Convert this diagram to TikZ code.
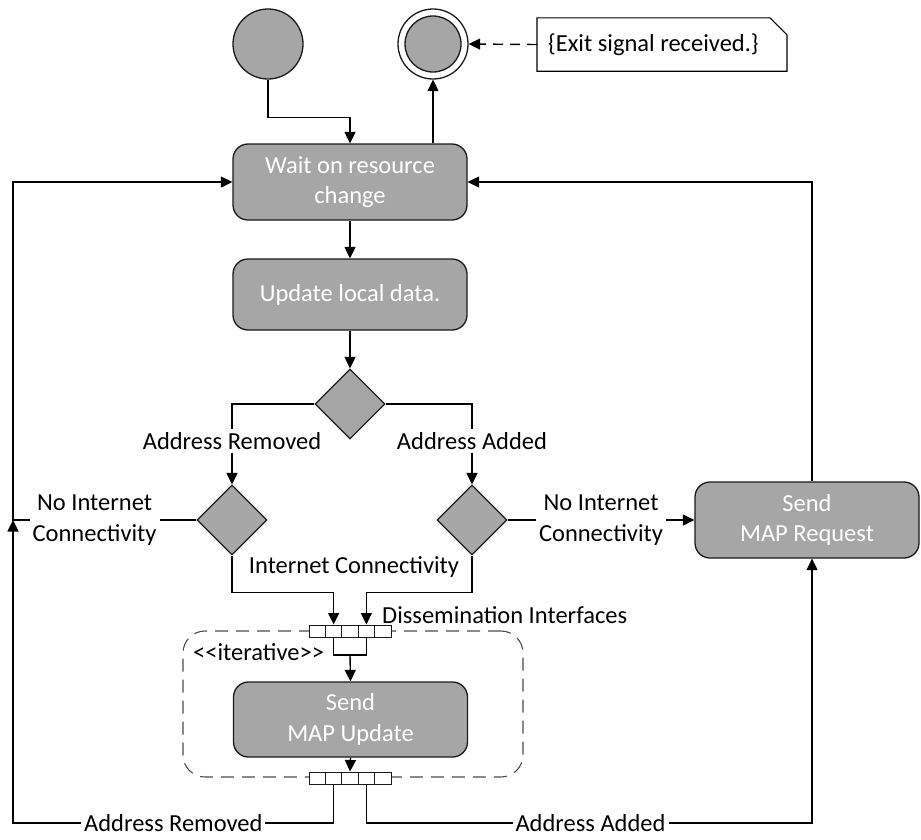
\documentclass[tikz,border=0pt]{standalone}
\usepackage{fontspec}
\setmainfont{Carlito}
\usetikzlibrary{arrows.meta,shapes.geometric,calc}
\definecolor{actfill}{HTML}{A6A6A6}
\definecolor{edge}{HTML}{1A1A1A}

\begin{document}
\begin{tikzpicture}[x=1pt,y=-1pt,
  every node/.style={font=\fontsize{24.5}{30.5}\selectfont},
  action/.style={draw=edge, line width=1.3pt, fill=actfill, rounded corners=15pt,
    minimum width=234pt, minimum height=76pt, inner sep=0pt, align=center, text=white},
  decision/.style={diamond, draw=edge, line width=1.3pt, fill=actfill,
    minimum width=70pt, minimum height=70pt, inner sep=0pt, shape aspect=1},
  initnode/.style={circle, draw=edge, line width=1.3pt, fill=actfill,
    minimum size=70pt, inner sep=0pt},
  pincell/.style={draw=edge, line width=1pt, fill=white,
    minimum width=16.4pt, minimum height=12pt, inner sep=0pt},
  flow/.style={draw=black, line width=1.4pt, -{Triangle[length=11.5pt,width=11pt]}},
  plain/.style={draw=black, line width=1.4pt},
  lbl/.style={fill=white, inner sep=3pt, align=center},
]
\useasboundingbox (0,0) rectangle (921,839);

% expansion region (iterative)
\node[draw=gray!60!black, line width=1.1pt, dash pattern=on 13pt off 8pt,
  rounded corners=22pt, minimum width=340pt, minimum height=146pt] (region) at (353,704) {};

% initial and final nodes
\node[initnode] (start) at (268,44) {};
\node[circle, draw=edge, line width=1.3pt, fill=white, minimum size=70pt, inner sep=0pt] (final) at (433,44) {};
\node[circle, draw=edge, line width=1.3pt, fill=actfill, minimum size=56pt, inner sep=0pt] (finalcore) at (final) {};

% note with folded corner
\node[anchor=west, inner xsep=11pt, inner ysep=0pt, minimum height=53pt] (note) at (537,44.5) {\{Exit signal received.\}};
\coordinate (notene) at ($(note.north west)+(250,0)$);
\coordinate (notese) at ($(note.south west)+(250,0)$);
\draw[plain, line width=1.1pt] (note.south west) -- (note.north west) -- ([xshift=-17pt]notene)
  -- ([yshift=-17pt]notene) -- (notese) -- cycle;

% actions and decisions
\node[action] (wait) at (350,182) {Wait on resource\\change};
\node[action, minimum height=71pt] (local) at (350,294.5) {Update local data.};
\node[decision] (split) at (350,404) {};
\node[decision] (chkrem) at (232,520) {};
\node[decision] (chkadd) at (472,520) {};
\node[action, minimum width=224pt] (request) at (807,520) {Send\\MAP Request};
\node[action, minimum height=75pt] (update) at (350.5,719.5) {Send\\MAP Update};

% input and output pins of the region
\foreach \i in {1,...,5} {
  \node[pincell] (in\i) at ({300.8+16.4*\i},631) {};
  \node[pincell] (out\i) at ({300.8+16.4*\i},778) {};
}

% helper points
\coordinate (leftrail) at (13,520);
\coordinate (bottomleft) at (13,823);
\coordinate (reqtop) at ($(request.north)+(5,0)$);
\coordinate (reqbot) at ($(request.south)+(5,0)$);
\coordinate (merge) at (350,655);

% flows
\draw[flow] (start.south) -- ++(0,38) -| (wait.north);
\draw[flow] (wait.north -| final) -- (final.south);
\draw[flow, dash pattern=on 10pt off 7pt] (note.west) -- (final.east);
\draw[flow] (wait.south) -- (local.north);
\draw[flow] (local.south) -- (split.north);
\draw[flow] (split.west) -| node[lbl, pos=0.73] {Address Removed} (chkrem.north);
\draw[flow] (split.east) -| node[lbl, pos=0.73] {Address Added} (chkadd.north);
\draw[flow] (chkrem.west) -- node[lbl, pos=0.555] {No Internet\\Connectivity} (leftrail) |- (wait.west);
\draw[flow] (chkadd.east) -- node[lbl] {No Internet\\Connectivity} (request.west);
\draw[flow] (reqtop) |- (wait.east);
\draw[flow] (chkrem.south) -- ++(0,37) -| (in2.north);
\draw[flow] (chkadd.south) -- ++(0,37) -| (in4.north);
\node at (354,567) (inetlbl) {Internet Connectivity};
\node[anchor=west, inner sep=3pt] (dissem) at (379,615) {Dissemination Interfaces};
\node[anchor=west, inner sep=3pt] (iter) at (190,652) {<\kern0pt<iterative>\kern0pt>};
\draw[plain] (in2.south) |- (merge) -| (in4.south);
\draw[flow] (merge) -- (update.north);
\draw[flow] (update.south) -- (out3.north);
\draw[flow] (out2.south) -- (out2.south |- bottomleft) -- node[lbl] {Address Removed} (bottomleft) -- (leftrail);
\draw[flow] (out4.south) -- (out4.south |- bottomleft) -- node[lbl, pos=0.503] {Address Added} (reqbot |- bottomleft) -- (reqbot);
\end{tikzpicture}
\end{document}
